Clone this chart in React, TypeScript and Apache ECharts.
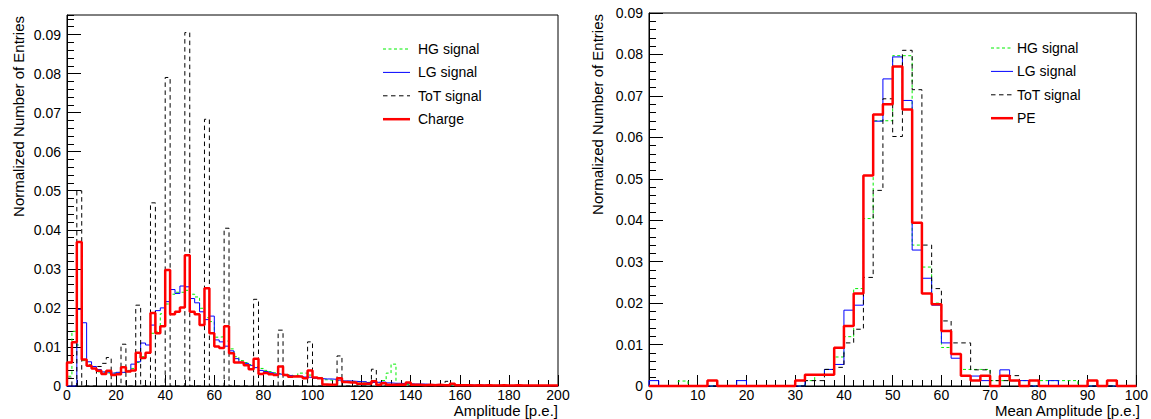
import React, { useEffect, useRef } from "react";
import * as echarts from "echarts";

// ---------- data (bin width 2) ----------
const BIN = 2;
const leftMax = 200;
const rightMax = 100;

const leftHG = [
  0.0025, 0.014, 0.0105, 0.0065, 0.0055, 0.0045, 0.0036, 0.0035, 0.0033, 0.0033,
  0.0035, 0.0035, 0.004, 0.0045, 0.006, 0.0075, 0.0085, 0.0135, 0.014, 0.0185,
  0.021, 0.0235, 0.024, 0.024, 0.0245, 0.0235, 0.0228, 0.0199, 0.0175, 0.0165,
  0.0125, 0.0126, 0.0115, 0.0095, 0.0075, 0.0065, 0.006, 0.0055, 0.005, 0.0045,
  0.004, 0.0037, 0.0034, 0.0032, 0.003, 0.0028, 0.0026, 0.0033, 0.0033, 0.0028,
  0.002, 0.0022, 0.0016, 0.0015, 0.0014, 0.0013, 0.0012, 0.0012, 0.0011, 0.001,
  0.001, 0.0009, 0.001, 0.0008, 0.0014, 0.0033, 0.0056, 0.0005, 0.0004, 0.0004,
  0.0003, 0.0003, 0.0003, 0.0002, 0.0003, 0.0002, 0.0002, 0.0002, 0.0003, 0.0002,
  0.0002, 0.0002, 0.0001, 0.0002, 0.0001, 0.0001, 0.0002, 0.0001, 0.0001, 0.0001,
  0.0001, 0.0001, 0.0001, 0.0001, 0.0001, 0.0001, 0.0001, 0.0001, 0.0001, 0.0001,
];

const leftLG = [
  0, 0, 0.0196, 0.0162, 0.0062, 0.005, 0.0042, 0.0036, 0.0035, 0.0033,
  0.0035, 0.0035, 0.0038, 0.0056, 0.0062, 0.011, 0.0105, 0.0156, 0.0193, 0.02,
  0.0216, 0.0247, 0.0237, 0.0256, 0.0254, 0.0224, 0.0213, 0.019, 0.017, 0.0179,
  0.0118, 0.0113, 0.0102, 0.009, 0.007, 0.0061, 0.0058, 0.0053, 0.0047, 0.004,
  0.0037, 0.0034, 0.0031, 0.003, 0.0029, 0.0027, 0.0025, 0.0025, 0.0023, 0.0022,
  0.002, 0.0019, 0.0018, 0.0018, 0.0017, 0.0015, 0.0013, 0.0013, 0.0012, 0.0011,
  0.0011, 0.0009, 0.0009, 0.001, 0.001, 0.0008, 0.0007, 0.0007, 0.0006, 0.0006,
  0.0005, 0.0005, 0.0005, 0.0004, 0.0004, 0.0004, 0.0003, 0.0003, 0.0004, 0.0003,
  0.0003, 0.0002, 0.0002, 0.0002, 0.0002, 0.0002, 0.0001, 0.0002, 0.0001, 0.0001,
  0.0001, 0.0001, 0.0001, 0.0001, 0.0001, 0.0001, 0.0001, 0, 0.0001, 0,
];

const leftToT = [
  0.002, 0, 0.05, 0, 0, 0, 0.005, 0.0058, 0.0073, 0,
  0, 0.0107, 0, 0, 0.0207, 0, 0, 0.0469, 0, 0,
  0.079, 0, 0, 0, 0.0905, 0, 0, 0, 0.0683, 0,
  0, 0, 0.0404, 0, 0, 0, 0, 0, 0.0222, 0,
  0, 0, 0, 0.0143, 0, 0, 0, 0, 0, 0.0113,
  0, 0, 0, 0, 0, 0.0077, 0, 0, 0, 0,
  0, 0, 0.0043, 0, 0, 0, 0, 0, 0, 0,
  0, 0, 0, 0, 0, 0, 0, 0.0012, 0, 0,
  0, 0, 0, 0, 0, 0, 0, 0, 0, 0,
  0, 0, 0, 0, 0, 0, 0, 0, 0, 0,
];

const leftCharge = [
  0.006, 0.0112, 0.0369, 0.0068, 0.0052, 0.0045, 0.0039, 0.0031, 0.0039, 0.0028,
  0.003, 0.0048, 0.0037, 0.004, 0.0085, 0.0072, 0.0085, 0.0187, 0.0135, 0.0153,
  0.0297, 0.0184, 0.019, 0.0201, 0.0335, 0.019, 0.0184, 0.0156, 0.025, 0.0135,
  0.0101, 0.0097, 0.0153, 0.0084, 0.006, 0.006, 0.0053, 0.0043, 0.007, 0.0031,
  0.0033, 0.003, 0.0028, 0.005, 0.0028, 0.0024, 0.0025, 0.0024, 0.002, 0.004,
  0.0022, 0.002, 0.0004, 0.0003, 0.0004, 0.002, 0.001, 0.0009, 0.0009, 0.0006,
  0.0006, 0.0006, 0.0012, 0.0003, 0.0007, 0.0003, 0.0003, 0.0004, 0.0003, 0.0009,
  0.0003, 0.0003, 0.0002, 0.0003, 0.0002, 0.0003, 0.0002, 0.0002, 0.0006, 0.0002,
  0.0002, 0.0002, 0.0001, 0.0002, 0.0001, 0.0002, 0.0001, 0.0001, 0.0002, 0.0001,
  0.0001, 0.0002, 0.0001, 0.0001, 0.0001, 0.0001, 0.0001, 0.0001, 0.0001, 0.0001,
];

const rightHG = [
  0, 0, 0, 0.0012, 0, 0, 0, 0, 0, 0,
  0, 0, 0, 0, 0, 0, 0.0013, 0.0027, 0.004, 0.007,
  0.0119, 0.0235, 0.0404, 0.064, 0.064, 0.0797, 0.0797, 0.034, 0.0287, 0.02,
  0.0093, 0.0078, 0.004, 0.004, 0.004, 0.0013, 0.0013, 0.0013, 0.0013, 0,
  0.0013, 0.0013, 0.0013, 0.0013, 0, 0, 0, 0, 0, 0,
];

const rightLG = [
  0.0013, 0, 0, 0, 0, 0, 0, 0, 0, 0.0013,
  0, 0, 0, 0, 0, 0, 0.0027, 0.0027, 0.004, 0.0052,
  0.0183, 0.0195, 0.0508, 0.0639, 0.0741, 0.0794, 0.0689, 0.0328, 0.026, 0.0195,
  0.0104, 0.0067, 0.0024, 0.0024, 0.0013, 0, 0.0039, 0.0013, 0.0013, 0,
  0, 0.0013, 0, 0, 0, 0, 0, 0, 0, 0,
];

const rightToT = [
  0, 0, 0, 0, 0, 0, 0, 0, 0, 0,
  0, 0, 0, 0, 0, 0, 0.0013, 0.0013, 0.004, 0.0045,
  0.0104, 0.0137, 0.0262, 0.0472, 0.0693, 0.0602, 0.081, 0.0715, 0.034, 0.0235,
  0.0157, 0.0104, 0.0104, 0.0039, 0.0039, 0.0013, 0.0013, 0.0025, 0, 0,
  0, 0, 0, 0, 0, 0, 0, 0, 0, 0,
];

const rightPE = [
  0, 0, 0, 0, 0, 0, 0.0013, 0, 0, 0,
  0, 0, 0, 0, 0, 0.0013, 0.0027, 0.0027, 0.0027, 0.0092,
  0.0145, 0.0223, 0.0508, 0.0655, 0.068, 0.0771, 0.0667, 0.0394, 0.0223, 0.0197,
  0.0133, 0.0077, 0.0025, 0.0013, 0.0025, 0, 0.0025, 0.0013, 0, 0.0013,
  0, 0, 0, 0, 0, 0.0013, 0, 0.0013, 0, 0,
];

const leftLegend = ["HG signal", "LG signal", "ToT signal", "Charge"];
const rightLegend = ["HG signal", "LG signal", "ToT signal", "PE"];
const leftXTitle = "Amplitude [p.e.]";
const rightXTitle = "Mean Amplitude [p.e.]";
const yTitle = "Normalized Number of Entries";

// ---------- styles ----------
const FONT = '"Liberation Sans", Arial, Helvetica, sans-serif';
const STYLES = [
  { color: "#00ee00", width: 1, type: [3, 2.5] as any },
  { color: "#0000ff", width: 1, type: "solid" as any },
  { color: "#000000", width: 1, type: [4.5, 3.5] as any },
  { color: "#ff0000", width: 2.5, type: "solid" as any },
];

const G1 = { left: 67, top: 15, width: 491, height: 371 };
const G2 = { left: 649, top: 13, width: 491, height: 373 };

function histPoints(values: number[], width: number): [number, number][] {
  const pts: [number, number][] = [[0, 0]];
  values.forEach((v, i) => pts.push([i * width, v]));
  pts.push([values.length * width, values[values.length - 1]]);
  pts.push([values.length * width, 0]);
  return pts;
}

function xAxisCfg(gridIndex: number, max: number, interval: number) {
  return {
    type: "value",
    gridIndex,
    min: 0,
    max,
    interval,
    axisLine: { show: true, onZero: false, lineStyle: { color: "#000", width: 1 } },
    axisTick: { show: true, inside: true, length: 11, lineStyle: { color: "#000", width: 1 } },
    minorTick: { show: true, splitNumber: 5, length: 6, lineStyle: { color: "#000", width: 1 } },
    axisLabel: { show: true, color: "#000", fontSize: 14, fontFamily: FONT, margin: 2 },
    splitLine: { show: false },
    minorSplitLine: { show: false },
  };
}

function yAxisMajor(gridIndex: number, max: number, withMinor: boolean) {
  return {
    type: "value",
    gridIndex,
    position: "left",
    min: 0,
    max,
    interval: 0.01,
    axisLine: { show: true, onZero: false, lineStyle: { color: "#000", width: 1 } },
    axisTick: { show: true, inside: true, length: 14, lineStyle: { color: "#000", width: 1 } },
    minorTick: { show: withMinor, splitNumber: 5, length: 7, lineStyle: { color: "#000", width: 1 } },
    axisLabel: {
      show: true,
      color: "#000",
      fontSize: 14,
      fontFamily: FONT,
      margin: 6,
      showMaxLabel: withMinor,
    },
    splitLine: { show: false },
    minorSplitLine: { show: false },
  };
}

function yAxisMinorOnly(gridIndex: number, max: number) {
  return {
    type: "value",
    gridIndex,
    position: "left",
    offset: 0,
    min: 0,
    max,
    interval: 0.002,
    axisLine: { show: false },
    axisTick: { show: true, inside: true, length: 7, lineStyle: { color: "#000", width: 1 } },
    axisLabel: { show: false },
    splitLine: { show: false },
  };
}

function hist(name: string, values: number[], xi: number, yi: number, st: any, z: number) {
  return {
    type: "line",
    name,
    xAxisIndex: xi,
    yAxisIndex: yi,
    data: histPoints(values, BIN),
    step: "end",
    symbol: "none",
    showSymbol: false,
    clip: false,
    silent: true,
    z,
    lineStyle: { color: st.color, width: st.width, type: st.type },
    itemStyle: { color: st.color },
  };
}

function legendGraphics(names: string[], x1: number, x2: number, tx: number, y0: number, pitch: number) {
  const els: any[] = [];
  names.forEach((n, i) => {
    const st = STYLES[i];
    const y = y0 + i * pitch;
    els.push({
      type: "line",
      shape: { x1, y1: y, x2, y2: y },
      style: {
        stroke: st.color,
        lineWidth: st.width,
        lineDash: Array.isArray(st.type) ? st.type : null,
      },
      silent: true,
    });
    els.push({
      type: "text",
      x: tx,
      y,
      style: {
        text: n,
        fill: "#000",
        font: `14px ${FONT}`,
        textAlign: "left",
        align: "left",
        textVerticalAlign: "middle",
        verticalAlign: "middle",
      },
      silent: true,
    });
  });
  return els;
}

function titleGraphics() {
  const t = (text: string, x: number, y: number, align: string, va: string, rotation = 0) => ({
    type: "text",
    x,
    y,
    rotation,
    style: {
      text,
      fill: "#000",
      font: `15px ${FONT}`,
      textAlign: align,
      align,
      textVerticalAlign: va,
      verticalAlign: va,
    },
    silent: true,
  });
  return [
    t(leftXTitle, G1.left + G1.width, 403, "right", "top"),
    t(rightXTitle, G2.left + G2.width, 403, "right", "top"),
    t(yTitle, 18.5, G1.top + 1, "right", "middle", Math.PI / 2),
    t(yTitle, 597.5, G2.top + 1, "right", "middle", Math.PI / 2),
  ];
}

function buildOption() {
  const leftSets = [leftHG, leftLG, leftToT, leftCharge];
  const rightSets = [rightHG, rightLG, rightToT, rightPE];
  const series: any[] = [];
  leftSets.forEach((vals, i) => series.push(hist(leftLegend[i], vals, 0, 0, STYLES[i], 2 + i)));
  rightSets.forEach((vals, i) => series.push(hist(rightLegend[i], vals, 1, 2, STYLES[i], 2 + i)));
  return {
    animation: false,
    backgroundColor: "#ffffff",
    textStyle: { fontFamily: FONT },
    grid: [
      { ...G1, show: true, borderColor: "#000", borderWidth: 1, backgroundColor: "transparent", containLabel: false },
      { ...G2, show: true, borderColor: "#000", borderWidth: 1, backgroundColor: "transparent", containLabel: false },
    ],
    xAxis: [xAxisCfg(0, leftMax, 20), xAxisCfg(1, rightMax, 10)],
    yAxis: [yAxisMajor(0, 0.095, false), yAxisMinorOnly(0, 0.095), yAxisMajor(1, 0.09, true)],
    series,
    graphic: [
      ...legendGraphics(leftLegend, 383, 410, 418, 49, 23.4),
      ...legendGraphics(rightLegend, 991, 1013, 1017, 48, 23.4),
      ...titleGraphics(),
    ],
  };
}

export default function App() {
  const ref = useRef<HTMLDivElement>(null);
  useEffect(() => {
    if (!ref.current) return;
    const chart = echarts.init(ref.current, null, { renderer: "svg" });
    chart.setOption(buildOption() as any);
    return () => chart.dispose();
  }, []);
  return (
    <div
      ref={ref}
      style={{ position: "fixed", left: 0, top: 0, width: 1151, height: 419, background: "#fff" }}
    />
  );
}
